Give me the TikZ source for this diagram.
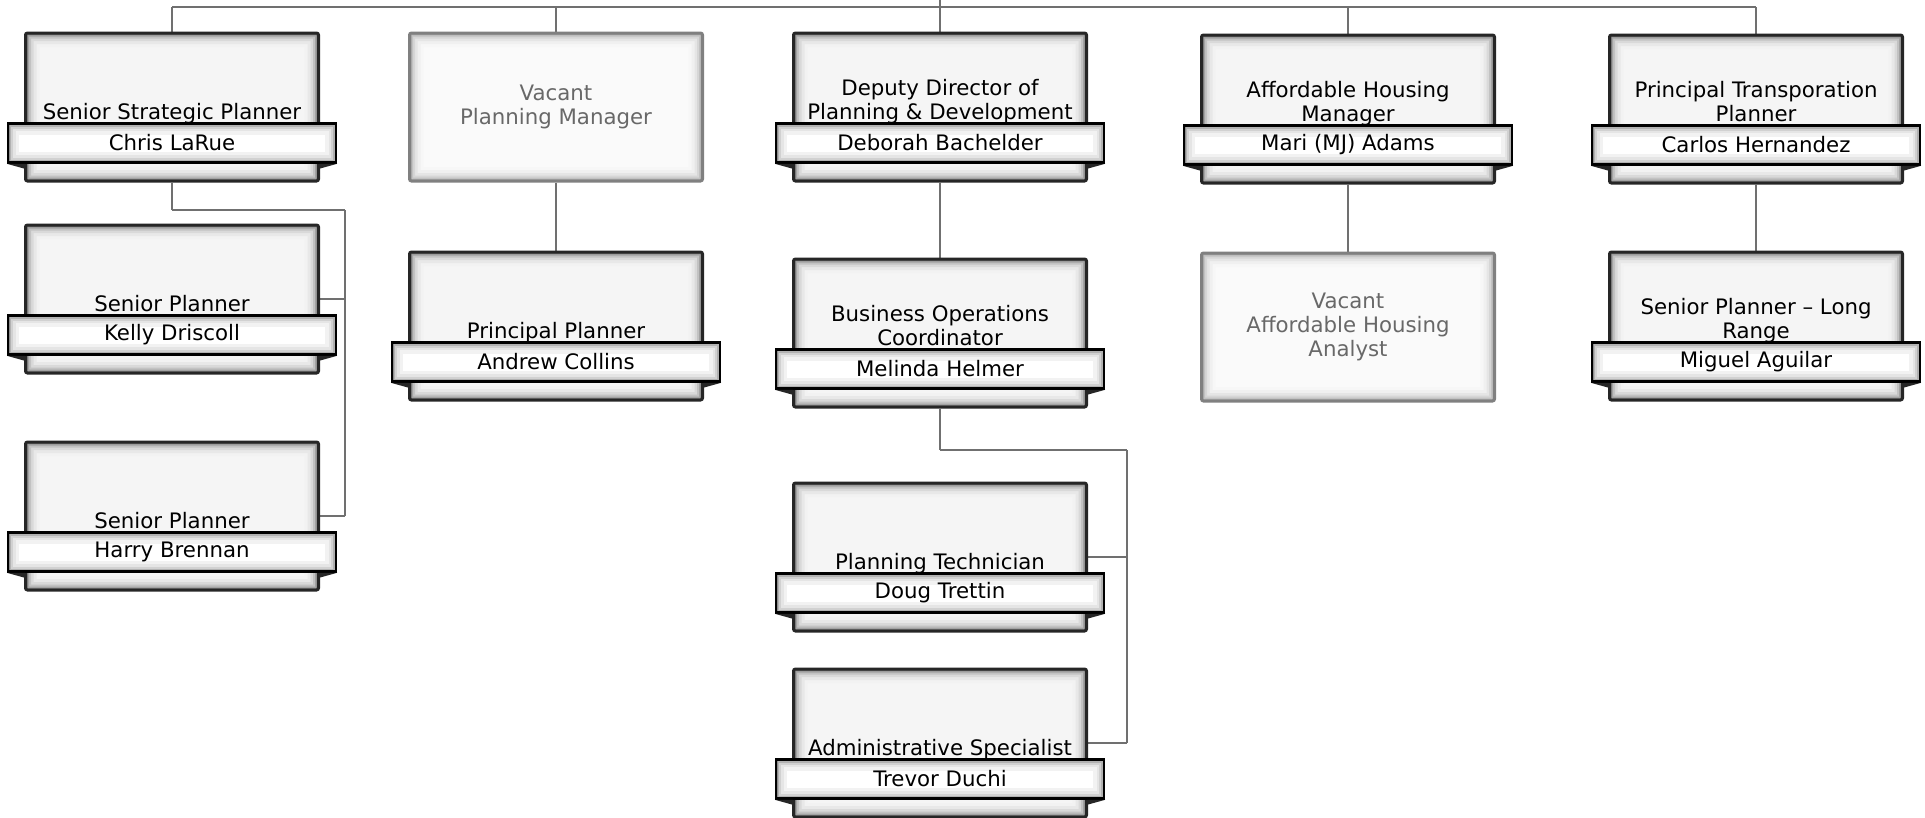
\documentclass[tikz,border=0pt]{standalone}
\usepackage{fontspec}
\setmainfont{DejaVu Sans}
\usepackage{tikz}
\pgfdeclarelayer{edgelayer}
\pgfdeclarelayer{nodelayer}
\pgfsetlayers{edgelayer,nodelayer,main}
\definecolor{linkgray}{HTML}{707070}
\definecolor{vacanttext}{HTML}{686868}
\tikzstyle{none}=[inner sep=0pt]
\tikzstyle{card}=[rectangle,rounded corners=2pt,minimum width=293pt,minimum height=148pt,inner sep=0pt,fill=black!4,draw=black!85,line width=3pt,path picture={\foreach \w/\c in {28/5,22/9,16/15,11/24,7/36,4/52} {\draw [line width=\w pt,black!\c] (path picture bounding box.south west) rectangle (path picture bounding box.north east);}}]
\tikzstyle{vacant}=[rectangle,rounded corners=2pt,minimum width=293pt,minimum height=148pt,inner sep=0pt,fill=black!2,draw=black!50,line width=3pt,text=vacanttext,align=center,path picture={\foreach \w/\c in {28/3,22/6,16/10,11/16,7/24,4/34} {\draw [line width=\w pt,black!\c] (path picture bounding box.south west) rectangle (path picture bounding box.north east);}}]
\tikzstyle{jobtitle}=[inner sep=0pt,anchor=south,text depth=0pt,align=center]
\tikzstyle{nameband}=[rectangle,minimum width=328pt,minimum height=39pt,inner sep=0pt,fill=white,draw=black,line width=2.5pt,path picture={\foreach \w/\c in {22/5,15/10,10/18,6/30,3/45} {\draw [line width=\w pt,black!\c] (path picture bounding box.south west) rectangle (path picture bounding box.north east);}}]
\tikzstyle{simple}=[-,draw=linkgray,line width=2pt]

\begin{document}
\begin{tikzpicture}[x=1pt,y=-1pt,font=\fontsize{21.3}{24}\selectfont]
	\useasboundingbox (0,0) rectangle (1925,817);
	\begin{pgfonlayer}{nodelayer}
		\node [style=card] (0) at (172, 107) {};
		\node [style=vacant] (1) at (556, 107) {Vacant\\Planning Manager};
		\node [style=card] (2) at (940, 107) {};
		\node [style=card] (3) at (1348, 109) {};
		\node [style=card] (4) at (1756, 109) {};
		\node [style=card] (5) at (172, 299) {};
		\node [style=card] (6) at (172, 516) {};
		\node [style=card] (7) at (556, 326) {};
		\node [style=card] (8) at (940, 333) {};
		\node [style=vacant] (9) at (1348, 327) {Vacant\\Affordable Housing\\Analyst};
		\node [style=card] (10) at (1756, 326) {};
		\node [style=card] (11) at (940, 557) {};
		\node [style=card] (12) at (940, 743) {};
		\node [style=jobtitle] (13) at (172, 119.5) {Senior Strategic Planner};
		\node [style=jobtitle] (14) at (940, 119.5) {Deputy Director of\\Planning \& Development};
		\node [style=jobtitle] (15) at (1348, 121.5) {Affordable Housing\\Manager};
		\node [style=jobtitle] (16) at (1756, 121.5) {Principal Transporation\\Planner};
		\node [style=jobtitle] (17) at (172, 311.5) {Senior Planner};
		\node [style=jobtitle] (18) at (172, 528.5) {Senior Planner};
		\node [style=jobtitle] (19) at (556, 338.5) {Principal Planner};
		\node [style=jobtitle] (20) at (940, 345.5) {Business Operations\\Coordinator};
		\node [style=jobtitle] (21) at (1756, 338.5) {Senior Planner -- Long\\Range};
		\node [style=jobtitle] (22) at (940, 569.5) {Planning Technician};
		\node [style=jobtitle] (23) at (940, 755.5) {Administrative Specialist};
		\node [style=nameband] (24) at (172, 143) {Chris LaRue};
		\node [style=nameband] (25) at (940, 143) {Deborah Bachelder};
		\node [style=nameband] (26) at (1348, 145) {Mari (MJ) Adams};
		\node [style=nameband] (27) at (1756, 145) {Carlos Hernandez};
		\node [style=nameband] (28) at (172, 335) {Kelly Driscoll};
		\node [style=nameband] (29) at (172, 552) {Harry Brennan};
		\node [style=nameband] (30) at (556, 362) {Andrew Collins};
		\node [style=nameband] (31) at (940, 369) {Melinda Helmer};
		\node [style=nameband] (32) at (1756, 362) {Miguel Aguilar};
		\node [style=nameband] (33) at (940, 593) {Doug Trettin};
		\node [style=nameband] (34) at (940, 779) {Trevor Duchi};
	\end{pgfonlayer}
	\begin{pgfonlayer}{edgelayer}
		\node [style=none] (35) at (172, 7) {};
		\node [style=none] (36) at (1756, 7) {};
		\node [style=none] (37) at (940, 0) {};
		\node [style=none] (38) at (556, 7) {};
		\node [style=none] (39) at (1348, 7) {};
		\node [style=none] (40) at (172, 210) {};
		\node [style=none] (41) at (345, 210) {};
		\node [style=none] (42) at (345, 299) {};
		\node [style=none] (43) at (345, 516) {};
		\node [style=none] (44) at (940, 450) {};
		\node [style=none] (45) at (1127, 450) {};
		\node [style=none] (46) at (1127, 557) {};
		\node [style=none] (47) at (1127, 743) {};
		\draw [style=simple] (35.center) to (36.center);
		\draw [style=simple] (35.center) to (0);
		\draw [style=simple] (38.center) to (1);
		\draw [style=simple] (37.center) to (2);
		\draw [style=simple] (39.center) to (3);
		\draw [style=simple] (36.center) to (4);
		\draw [style=simple] (0) to (40.center);
		\draw [style=simple] (40.center) to (41.center);
		\draw [style=simple] (41.center) to (43.center);
		\draw [style=simple] (42.center) to (5);
		\draw [style=simple] (43.center) to (6);
		\draw [style=simple] (1) to (7);
		\draw [style=simple] (2) to (8);
		\draw [style=simple] (3) to (9);
		\draw [style=simple] (4) to (10);
		\draw [style=simple] (8) to (44.center);
		\draw [style=simple] (44.center) to (45.center);
		\draw [style=simple] (45.center) to (47.center);
		\draw [style=simple] (46.center) to (11);
		\draw [style=simple] (47.center) to (12);
	\end{pgfonlayer}
	% ribbon folds under the name bands
	\foreach \n in {24,...,34} {
		\fill [black!85] (\n.south west) -- ++(18, 5) -- ++(0, -5) -- cycle;
		\fill [black!85] (\n.south east) -- ++(-18, 5) -- ++(0, -5) -- cycle;
	}
\end{tikzpicture}
\end{document}
